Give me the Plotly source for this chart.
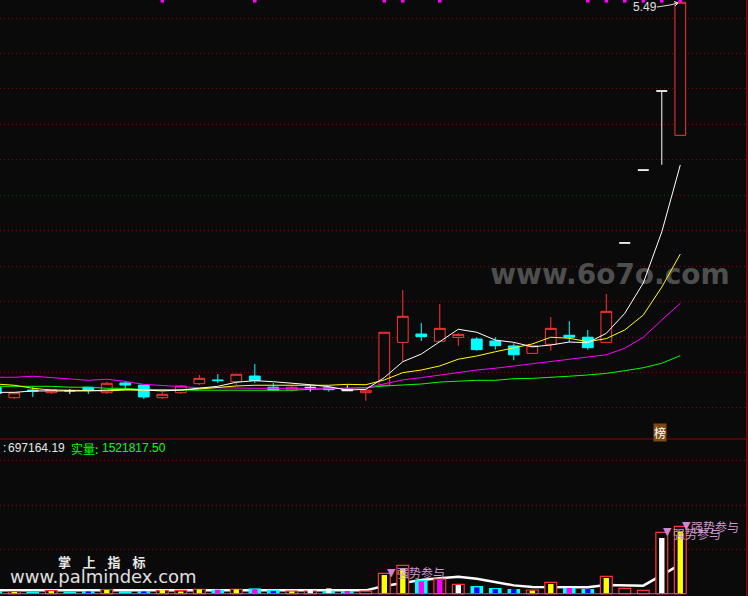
import plotly.graph_objects as go

# ---------- price panel ----------
red_x = [0, 2, 5, 8, 9, 10, 12, 15, 19, 20, 21, 23, 24, 28, 29, 32, 36]
red_open = [3.258, 3.286, 3.286, 3.258, 3.286, 3.337, 3.348, 3.301, 3.286, 3.328, 3.570, 3.576, 3.598, 3.508, 3.559, 3.570, 4.738]
red_close = [3.286, 3.305, 3.339, 3.277, 3.324, 3.367, 3.390, 3.317, 3.300, 3.627, 3.717, 3.649, 3.615, 3.551, 3.649, 3.745, 5.489]
red_high = [3.286, 3.305, 3.347, 3.292, 3.329, 3.386, 3.390, 3.324, 3.305, 3.627, 3.865, 3.786, 3.621, 3.551, 3.713, 3.843, 5.489]
red_low = [3.251, 3.279, 3.279, 3.251, 3.279, 3.329, 3.329, 3.292, 3.241, 3.328, 3.461, 3.576, 3.551, 3.508, 3.523, 3.570, 4.738]

cyan_x = [-1, 1, 4, 6, 7, 11, 13, 14, 17, 22, 25, 26, 27, 30, 31]
cyan_open = [3.317, 3.301, 3.317, 3.341, 3.329, 3.358, 3.380, 3.317, 3.314, 3.617, 3.589, 3.578, 3.550, 3.610, 3.599]
cyan_close = [3.281, 3.294, 3.301, 3.329, 3.262, 3.354, 3.354, 3.301, 3.303, 3.602, 3.529, 3.551, 3.500, 3.599, 3.540]
cyan_high = [3.317, 3.318, 3.317, 3.350, 3.329, 3.391, 3.448, 3.341, 3.324, 3.679, 3.599, 3.599, 3.565, 3.690, 3.640]
cyan_low = [3.281, 3.262, 3.279, 3.301, 3.251, 3.341, 3.341, 3.301, 3.292, 3.578, 3.523, 3.529, 3.470, 3.570, 3.529]

white_x = [3, 16, 18, 33, 34, 35]
white_open = [3.296, 3.314, 3.297, 4.131, 4.542, 4.988]
white_close = [3.298, 3.316, 3.305, 4.131, 4.542, 4.988]
white_high = [3.307, 3.329, 3.329, 4.131, 4.542, 4.988]
white_low = [3.279, 3.292, 3.297, 4.131, 4.542, 4.572]

ma_x = list(range(-1, 37))
ma5 = [3.288, 3.288, 3.296, 3.296, 3.296, 3.296, 3.301, 3.305, 3.301, 3.296, 3.301, 3.312, 3.322, 3.345, 3.354, 3.348, 3.341, 3.331, 3.320, 3.301, 3.305,
       3.371, 3.461, 3.504, 3.574, 3.644, 3.627, 3.583, 3.570, 3.545, 3.555, 3.572, 3.568, 3.621, 3.734, 3.905, 4.193, 4.571]
ma10 = [3.335, 3.328, 3.311, 3.301, 3.300, 3.296, 3.296, 3.301, 3.301, 3.301, 3.301, 3.307, 3.317, 3.324, 3.328, 3.328, 3.324, 3.324, 3.328, 3.333, 3.331,
        3.358, 3.399, 3.414, 3.437, 3.475, 3.493, 3.517, 3.537, 3.561, 3.599, 3.593, 3.574, 3.591, 3.640, 3.724, 3.882, 4.068]
ma20 = [3.373, 3.373, 3.379, 3.371, 3.362, 3.356, 3.362, 3.350, 3.333, 3.328, 3.322, 3.314, 3.314, 3.311, 3.311, 3.311, 3.311, 3.307, 3.311, 3.311, 3.314,
        3.335, 3.358, 3.371, 3.386, 3.399, 3.414, 3.424, 3.437, 3.448, 3.461, 3.475, 3.486, 3.500, 3.537, 3.599, 3.696, 3.790]
ma60 = [3.322, 3.322, 3.322, 3.322, 3.317, 3.317, 3.311, 3.311, 3.303, 3.301, 3.300, 3.300, 3.300, 3.300, 3.300, 3.300, 3.300, 3.305, 3.307, 3.311, 3.314,
        3.324, 3.328, 3.335, 3.346, 3.352, 3.356, 3.356, 3.365, 3.367, 3.375, 3.379, 3.386, 3.395, 3.410, 3.427, 3.452, 3.495]

flag_x = [8, 13, 20, 21, 23, 31, 32, 33, 34, 35, 36]
flag_y = [5.497] * len(flag_x)
price_grid = [5.4, 5.2, 5.0, 4.8, 4.6, 4.4, 4.2, 4.0, 3.8, 3.6, 3.4, 3.2]

# ---------- volume panel (millions) ----------
vol_x = list(range(-1, 37))
vol_outer = [0.060, 0.045, 0.045, 0.068, 0.045, 0.060, 0.090, 0.060, 0.060, 0.068, 0.075, 0.098, 0.090, 0.098, 0.120, 0.090, 0.060, 0.060, 0.068, 0.060, 0.060,
             0.459, 0.640, 0.309, 0.331, 0.211, 0.173, 0.128, 0.105, 0.083, 0.256, 0.128, 0.105, 0.391, 0.120, 0.075, 1.385, 1.520]
vol_inner = [0.050, 0.040, 0.000, 0.060, 0.000, 0.050, 0.085, 0.000, 0.050, 0.090, 0.050, 0.098, 0.090, 0.098, 0.098, 0.060, 0.050, 0.085, 0.120, 0.060, 0.000,
             0.421, 0.572, 0.278, 0.309, 0.196, 0.143, 0.105, 0.105, 0.068, 0.218, 0.128, 0.105, 0.354, 0.000, 0.000, 1.257, 1.400]
vol_up = [0, 1, 0, 1, 0, 0, 1, 0, 0, 1, 1, 1, 0, 1, 0, 0, 1, 1, 0, 0, 1,
          1, 1, 0, 1, 1, 0, 0, 0, 1, 1, 0, 0, 1, 1, 1, 1, 1]
vol_kind = ["W", "Y", "W", "Y", "W", "B", "Y", "W", "B", "Y", "Y", "Y", "M", "Y", "M", "B", "Y", "W", "W", "M", "W",
            "Y", "Y", "M", "M", "W", "B", "B", "B", "Y", "Y", "M", "B", "Y", "W", "W", "W", "Y"]
vol_ma = [0.080, 0.080, 0.078, 0.085, 0.085, 0.080, 0.080, 0.078, 0.078, 0.080, 0.082, 0.085, 0.088, 0.090, 0.090, 0.088, 0.085, 0.082, 0.080, 0.078, 0.075,
          0.173, 0.233, 0.309, 0.346, 0.384, 0.339, 0.263, 0.188, 0.150, 0.150, 0.143, 0.143, 0.196, 0.188, 0.181, 0.421, 0.662]
vol_grid = [1, 2, 3]
base_x = [-1, 36]
base_y = [0, 0]

W, H = 748, 596
BG = "#0a0a0a"
RED = "#ff3434"
CYAN = "#00ffff"
GRID = "#8c0000"
KIND = {"Y": "#ffff00", "W": "#ffffff", "M": "#ff00ff", "B": "#0000ff"}
SPLIT = 439
PRICE_RANGE = [3.0248, 5.5016]
VOL_RANGE = [-0.052, 3.492]
X_RANGE = [-0.773, 39.66]


def px(x):
    return x / W


def py(y):
    return 1 - y / H


fig = go.Figure()

# watermark under the lines
fig.add_trace(go.Scatter(x=[32.2], y=[3.94], mode="text", text=["www.6o7o.com"],
                         textfont=dict(family="DejaVu Sans", size=28, color="#4e4e4e", weight="bold"),
                         textposition="middle center", hoverinfo="skip", showlegend=False))


def candle(x, o, h, l, c, col, fill):
    fig.add_trace(go.Candlestick(x=x, open=o, high=h, low=l, close=c, whiskerwidth=0,
                                 increasing=dict(line=dict(color=col, width=1), fillcolor=fill),
                                 decreasing=dict(line=dict(color=col, width=1), fillcolor=fill),
                                 showlegend=False))


candle(red_x, red_open, red_high, red_low, red_close, RED, BG)
candle(cyan_x, cyan_open, cyan_high, cyan_low, cyan_close, CYAN, CYAN)
candle(white_x, white_open, white_high, white_low, white_close, "#ffffff", "#ffffff")

for vals, col in [(ma60, "#00ff00"), (ma20, "#ff00ff"), (ma10, "#ffff00"), (ma5, "#ffffff")]:
    fig.add_trace(go.Scatter(x=ma_x, y=vals, mode="lines", line=dict(color=col, width=1), showlegend=False))

fig.add_trace(go.Scatter(x=flag_x, y=flag_y, mode="markers",
                         marker=dict(symbol="square", size=3.5, color="#ff00ff", line=dict(width=0)),
                         showlegend=False))

# volume panel
fig.add_trace(go.Scatter(x=vol_x, y=vol_ma, mode="lines", line=dict(color="#ffffff", width=2.5),
                         xaxis="x2", yaxis="y2", showlegend=False))

up_x = [x for x, u in zip(vol_x, vol_up) if u]
up_y = [v for v, u in zip(vol_outer, vol_up) if u]
dn_x = [x for x, u in zip(vol_x, vol_up) if not u]
dn_y = [v for v, u in zip(vol_outer, vol_up) if not u]
fig.add_trace(go.Bar(x=up_x, y=up_y, width=0.64, marker=dict(color=BG, line=dict(color=RED, width=1.2)),
                     xaxis="x2", yaxis="y3", showlegend=False))
fig.add_trace(go.Bar(x=dn_x, y=dn_y, width=0.68, marker=dict(color=CYAN, line=dict(width=0)),
                     xaxis="x2", yaxis="y3", showlegend=False))
for k, col in KIND.items():
    xs = [x for x, kk in zip(vol_x, vol_kind) if kk == k]
    ys = [v for v, kk in zip(vol_inner, vol_kind) if kk == k]
    fig.add_trace(go.Bar(x=xs, y=ys, width=0.29, marker=dict(color=col, line=dict(width=0)),
                         xaxis="x2", yaxis="y3", showlegend=False))
fig.add_trace(go.Scatter(x=base_x, y=base_y, mode="lines", line=dict(color="#d040d0", width=1),
                         xaxis="x2", yaxis="y3", showlegend=False))

hidden = dict(showticklabels=False, ticks="", showline=False, zeroline=False, showgrid=False)
grid = dict(showticklabels=False, ticks="", showline=False, zeroline=False, showgrid=True,
            gridcolor=GRID, gridwidth=1, griddash="1px,3px")


def note(text, x, y, size, color, anchor="left", **kw):
    return dict(text=text, x=px(x), y=py(y), xref="paper", yref="paper", showarrow=False,
                xanchor=anchor, yanchor="middle", font=dict(size=size, color=color, family=kw.pop("family", "Liberation Sans")),
                **kw)


CJK = "Noto Sans CJK SC"
PINK = "#cc99cc"
GAP = "\u00a0\u00a0\u00a0\u00a0"
annotations = [
    note(":", 1, 448, 12, "#e6e6e6"),
    note("697164.19", 6, 448, 12, "#e6e6e6"),
    note("实量:", 69, 448, 12, "#00ff00", family=CJK),
    note("1521817.50", 100, 448, 12, "#00ff00"),
    note("5.49", 631, 7, 12, "#e0e0e0"),
    note("<b>" + GAP.join("掌上指标") + "</b>", 56, 561, 13, "#e8e8e8", family=CJK),
    note("www.palmindex.com", 8, 576, 18, "#e0e0e0", family="DejaVu Sans"),
    note("榜", 653, 432, 12, "#ffffff", family=CJK, bgcolor="#7d4a14", borderpad=0),
    note("▼", 384.5, 572, 11, "#cc88cc", family="DejaVu Sans"),
    note("强势参与", 394.5, 572.5, 12, PINK, family=CJK),
    note("▼", 661, 531, 11, "#cc88cc", family="DejaVu Sans"),
    note("强势参与", 671, 533, 12, PINK, family=CJK),
    note("▼", 680, 525, 11, "#cc88cc", family="DejaVu Sans"),
    note("强势参与", 689, 526, 12, PINK, family=CJK),
]

shapes = [
    dict(type="line", xref="paper", yref="paper", x0=0, x1=px(746), y0=py(SPLIT), y1=py(SPLIT),
         line=dict(color="#8c0000", width=1)),
    dict(type="line", xref="paper", yref="paper", x0=px(746.7), x1=px(746.7), y0=0, y1=1,
         line=dict(color="#8c0000", width=1.5)),
    dict(type="line", xref="paper", yref="paper", x0=px(657), x1=px(670), y0=py(7), y1=py(5),
         line=dict(color="#e0e0e0", width=1)),
    dict(type="line", xref="paper", yref="paper", x0=px(670), x1=px(678), y0=py(5), y1=py(3),
         line=dict(color="#e0e0e0", width=1)),
    dict(type="line", xref="paper", yref="paper", x0=px(674), x1=px(678), y0=py(1.5), y1=py(3),
         line=dict(color="#e0e0e0", width=1)),
    dict(type="line", xref="paper", yref="paper", x0=px(675), x1=px(678), y0=py(6), y1=py(3),
         line=dict(color="#e0e0e0", width=1)),
]

fig.update_layout(
    width=W, height=H, margin=dict(l=0, r=0, t=0, b=0),
    paper_bgcolor=BG, plot_bgcolor=BG, showlegend=False, barmode="overlay", boxgap=0.17,
    xaxis=dict(range=X_RANGE, domain=[0, 1], anchor="y", rangeslider=dict(visible=False), **hidden),
    yaxis=dict(range=PRICE_RANGE, domain=[py(SPLIT), 1], anchor="x", tickmode="array", tickvals=price_grid, **grid),
    xaxis2=dict(range=X_RANGE, domain=[0, 1], anchor="y2", rangeslider=dict(visible=False), **hidden),
    yaxis2=dict(range=VOL_RANGE, domain=[0, py(SPLIT)], anchor="x2", tickmode="array", tickvals=vol_grid, **grid),
    yaxis3=dict(range=VOL_RANGE, overlaying="y2", anchor="x2", **hidden),
    annotations=annotations, shapes=shapes,
)

fig.write_html("out.html", config={"displayModeBar": False},
               post_script="document.body.style.margin='0';document.body.style.overflow='hidden';document.body.style.background='#0a0a0a';")
